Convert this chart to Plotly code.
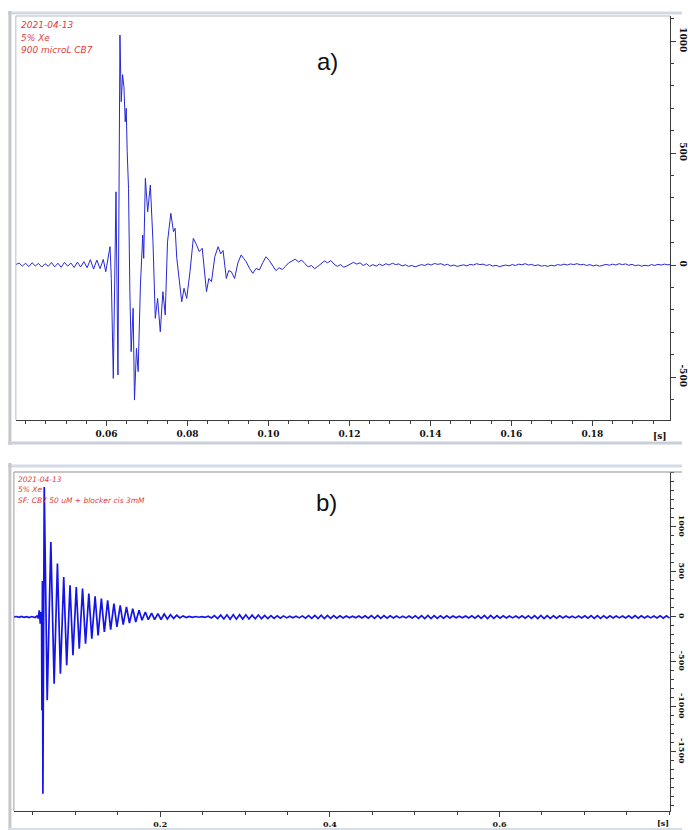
import numpy as np
import plotly.graph_objects as go

W, H = 688, 830

# ---------------- panel a) : 900 microL CB7 ----------------
# quiet baseline before the burst (uniform sampling from a_pre_t0)
a_pre_t0, a_pre_dt = 0.0376, 0.0008
a_pre_v = [2, 9, -5, 8, -7, 10, -4, 7, -9, 6, -6, 11, -8, 8, -10, 12,
           -5, 9, -11, 13, -9, 15, -12, 24, -18, 22, -16, 25]

# burst: time [s] and amplitude of the turning points
a_burst_t = [0.05980, 0.06086, 0.06118, 0.06167, 0.06233, 0.06282, 0.06331, 0.06363,
             0.06396, 0.06429, 0.06461, 0.06486, 0.06510, 0.06543, 0.06576, 0.06608,
             0.06657, 0.06690, 0.06739, 0.06780, 0.06837, 0.06894, 0.06918, 0.06959,
             0.07016, 0.07082, 0.07147, 0.07204, 0.07261, 0.07327, 0.07392, 0.07449,
             0.07506, 0.07588, 0.07653, 0.07694, 0.07735, 0.07800, 0.07857, 0.07914,
             0.07980, 0.08061, 0.08143, 0.08225, 0.08290, 0.08363, 0.08469, 0.08527,
             0.08592, 0.08674, 0.08755, 0.08820, 0.08878, 0.08959, 0.09017, 0.09082,
             0.09163, 0.09245, 0.09326, 0.09384, 0.09449, 0.09531, 0.09612, 0.09694,
             0.09776, 0.09857, 0.09939, 0.10021, 0.10102, 0.10184]
a_burst_v = [-30, 82, -60, -506, 327, -491, 1027, 729,
             850, 796, 640, 700, 506, 342, -119, -387,
             -193, -603, -372, -476, -89, 134, 30, 387,
             238, 357, 104, -238, -149, -298, -119, -223,
             104, 231, 149, 164, 30, -60, -164, -104,
             -149, -30, 119, 89, 60, 75, -119, -60,
             -74, 37, 82, 50, 65, -60, -25, -30,
             -60, 10, 45, 30, 15, -15, -37, -15,
             -22, 10, 37, 20, 0, -25]

# decaying ripple after the burst (uniform sampling from a_tail_t0)
a_tail_t0, a_tail_dt = 0.1026, 0.0008
a_tail_v = [-12, -20, -6, 10, 18, 26, 14, 22, 6, -8, -2, -16, -6, 4,
            18, 10, 20, 4, -6, 2, -10, -4, 6, 12, 4, 10, -2, 6, -6,
            2, -5, 4, -3, 6, 0, 8, 2, 5, -4, 1, -6, -2, -8, -3, 2, -2, 5, 0, 7,
            3, 6, -1, 3, -4, 0, -6, -3, 1, -4, 3, 0, 6, 2, 4, -2, 2, -5, -1, -7,
            -3, 0, -4, 2, -2, 4, 1, 6, 0, 3, -3, 1, -5, -2, -6, -1, -4, 2, -1, 4,
            0, 5, 2, 6, 1, 3, -2, 2, -4, 0, -5, -2, 3, -1, 4, 0, 6, 2, 5, -1,
            3, -3, 0, -5, -1, -4, 2, -2, 3, 0, 4, 1, 2]

a_notes = ["2021-04-13", "5% Xe", "900 microL CB7"]
a_xticks = [0.06, 0.08, 0.10, 0.12, 0.14, 0.16, 0.18]
a_xtick_text = ["0.06", "0.08", "0.10", "0.12", "0.14", "0.16", "0.18"]
a_yticks = [-500, 0, 500, 1000]
a_ytick_text = ["-500", "0", "500", "1000"]

# ---------------- panel b) : CB7 50 uM + blocker ----------------
b_pre_t0, b_pre_dt = 0.0275, 0.0030
b_pre_v = [0, 5, -4, 6, -5, 4, -6, 5]

b_burst_t = [0.05238, 0.05471, 0.05627, 0.05744, 0.05861, 0.05938, 0.06016, 0.06055,
             0.06114, 0.06172, 0.06328, 0.06678, 0.07107, 0.07496, 0.07885, 0.08236,
             0.08625, 0.08976, 0.09365, 0.09716, 0.10105, 0.10456, 0.10845, 0.11196,
             0.11585, 0.11936, 0.12325, 0.12676, 0.13065, 0.13415, 0.13805, 0.14155,
             0.14545, 0.14895, 0.15285, 0.15635, 0.16024, 0.16375, 0.16764, 0.17115,
             0.17504, 0.17855, 0.18244, 0.18595, 0.18984, 0.19335, 0.19724]
b_burst_v = [-6, 10, -15, 74, -74, 55, -30, -1037,
             400, -1963, 1444, -926, 833, -741, 593, -630,
             444, -537, 352, -426, 333, -352, 315, -296,
             259, -241, 230, -204, 204, -167, 185, -141,
             148, -111, 130, -85, 111, -67, 93, -56,
             74, -37, 56, -30, 44, -30, 37]

b_tail_t0, b_tail_dt = 0.2010, 0.0037
b_tail_v = [-28, 33, -22, 26, -16, 19, -11, 12,
            -6, 7, -4, 5, -3, 4, -5,
            8, -11, 15, -17, 21, -22, 24, -25, 26, -24, 25, -23, 24, -22, 21, -20, 22, -19, 18, -17,
            16, -15, 14, -13, 12, -10, 9, -8, 9, -10, 12, -13, 15, -16, 18, -17, 19, -18, 17, -16,
            15, -14, 12, -11, 10, -9, 8, -9, 10, -11, 13, -14, 15, -16, 17, -16, 15, -14, 13, -12,
            11, -10, 9, -10, 11, -12, 14, -15, 16, -17, 18, -17, 16, -15, 14, -13, 12, -11, 10, -9,
            8, -9, 10, -12, 13, -14, 15, -16, 17, -18, 17, -16, 15, -14, 13, -12, 11, -10, 10, -11,
            12, -13, 14, -15, 16, -17, 18, -17, 16, -15, 14, -13, 12, -11, 10, -9, 9, -10, 11, -12,
            13, -14, 15, -16, 16, -15, 14, -13, 12, -11, 10, -10, 11, -12, 13, -14, 15, -14, 13, -12,
            11, -10, 10, -11, 12, -13, 14, -13]

b_notes = ["2021-04-13", "5% Xe", "SF: CB7 50 uM + blocker cis 3mM"]
b_xticks = [0.2, 0.4, 0.6]
b_xtick_text = ["0.2", "0.4", "0.6"]
b_yticks = [-1500, -1000, -500, 0, 500, 1000]
b_ytick_text = ["-1500", "-1000", "-500", "0", "500", "1000"]


def series(t0, dt, pre, bt, bv, tt0, tdt, tail):
    pre_t = t0 + dt * np.arange(len(pre))
    tail_t = tt0 + tdt * np.arange(len(tail))
    t = np.concatenate([pre_t, bt, tail_t])
    v = np.concatenate([pre, bv, tail])
    return t, v


ta, va = series(a_pre_t0, a_pre_dt, a_pre_v, a_burst_t, a_burst_v,
                a_tail_t0, a_tail_dt, a_tail_v)
tb, vb = series(b_pre_t0, b_pre_dt, b_pre_v, b_burst_t, b_burst_v,
                b_tail_t0, b_tail_dt, b_tail_v)


def px(x):
    return x / W


def py(y):
    return 1 - y / H


fig = go.Figure()
fig.add_trace(go.Scatter(x=ta, y=va, mode="lines", xaxis="x", yaxis="y",
                         line=dict(color="#2727d4", width=1), hoverinfo="skip"))
fig.add_trace(go.Scatter(x=tb, y=vb, mode="lines", xaxis="x2", yaxis="y2",
                         line=dict(color="#1414e6", width=1.7), hoverinfo="skip"))

AX = "#3c3c3c"
tick_font_a = dict(family="DejaVu Serif", size=9, color="#111111", weight="bold")
tick_font_b = dict(family="DejaVu Serif", size=8, color="#111111", weight="bold")


def xaxis(dom, rng, vals, text, minor_dt, font, anchor):
    return dict(domain=dom, range=rng, anchor=anchor, showgrid=False, zeroline=False,
                showline=True, linecolor=AX, linewidth=1, ticks="outside", ticklen=5,
                tickcolor=AX, tickmode="array", tickvals=vals, ticktext=text,
                tickfont=font, fixedrange=True,
                minor=dict(tickmode="linear", tick0=0, dtick=minor_dt, ticks="outside",
                           ticklen=3, tickcolor=AX, showgrid=False))


def yaxis(dom, rng, vals, text, font, anchor):
    return dict(domain=dom, range=rng, anchor=anchor, side="right", showgrid=False,
                zeroline=False, showline=True, linecolor=AX, linewidth=1,
                ticks="outside", ticklen=5, tickcolor=AX, tickmode="array",
                tickvals=vals, ticktext=text, tickangle=90, tickfont=font,
                fixedrange=True,
                minor=dict(tickmode="linear", tick0=0, dtick=100, ticks="outside",
                           ticklen=3, tickcolor=AX, showgrid=False))


fig.update_layout(
    width=W, height=H, margin=dict(l=0, r=0, t=0, b=0),
    paper_bgcolor="white", plot_bgcolor="white", showlegend=False,
    xaxis=xaxis([px(16), px(676)], [0.0376, 0.1992], a_xticks, a_xtick_text,
                0.005, tick_font_a, "y"),
    yaxis=yaxis([py(420), py(16)], [-692, 1112], a_yticks, a_ytick_text,
                tick_font_a, "x"),
    xaxis2=xaxis([px(14), px(676)], [0.0275, 0.801], b_xticks, b_xtick_text,
                 0.05, tick_font_b, "y2"),
    yaxis2=yaxis([py(811), py(472)], [-2156, 1611], b_yticks, b_ytick_text,
                 tick_font_b, "x2"),
)

# window frames around both panels
shapes = []


def hline(y, x0, x1, color, w):
    shapes.append(dict(type="line", xref="paper", yref="paper", x0=px(x0), x1=px(x1),
                       y0=py(y), y1=py(y), line=dict(color=color, width=w)))


def vline(x, y0, y1, color, w):
    shapes.append(dict(type="line", xref="paper", yref="paper", x0=px(x), x1=px(x),
                       y0=py(y0), y1=py(y1), line=dict(color=color, width=w)))


# panel a window
hline(13, 8, 688, "#d3d9e2", 3)
vline(10, 11, 445, "#c4c7cc", 3)
hline(443, 8, 688, "#c9d0da", 3)
hline(16, 16, 676, "#b9bcc2", 1)
vline(16, 16, 420, "#b9bcc2", 1)
# panel b window
hline(466, 8, 688, "#d3dbe8", 3)
vline(10, 463, 830, "#c4c7cc", 3)
hline(472, 14, 688, "#8a8d92", 1)
vline(14, 472, 811, "#9a9da2", 1)
hline(829, 8, 688, "#d8dee6", 2)

annotations = []
RED = "#e03c3c"


def note(x, y, text, size, color=RED, italic=True, family="DejaVu Sans", weight="normal"):
    annotations.append(dict(xref="paper", yref="paper", x=px(x), y=py(y), text=text,
                            showarrow=False, xanchor="left", yanchor="middle",
                            font=dict(family=family, size=size, color=color,
                                      style="italic" if italic else "normal",
                                      weight=weight)))


for i, s in enumerate(a_notes):
    note(19, 25 + i * 12.5, s, 9)
for i, s in enumerate(b_notes):
    note(16, 479 + i * 10.8, s, 7.5)

note(318, 62, "a)", 24, color="#111111", italic=False, family="Liberation Sans")
note(317, 502, "b)", 24, color="#111111", italic=False, family="Liberation Sans")
note(657, 436, "[s]", 9, color="#111111", italic=False, family="DejaVu Serif", weight="bold")
note(661, 823, "[s]", 8, color="#111111", italic=False, family="DejaVu Serif", weight="bold")

fig.update_layout(shapes=shapes, annotations=annotations)
fig.write_html("out.html")
